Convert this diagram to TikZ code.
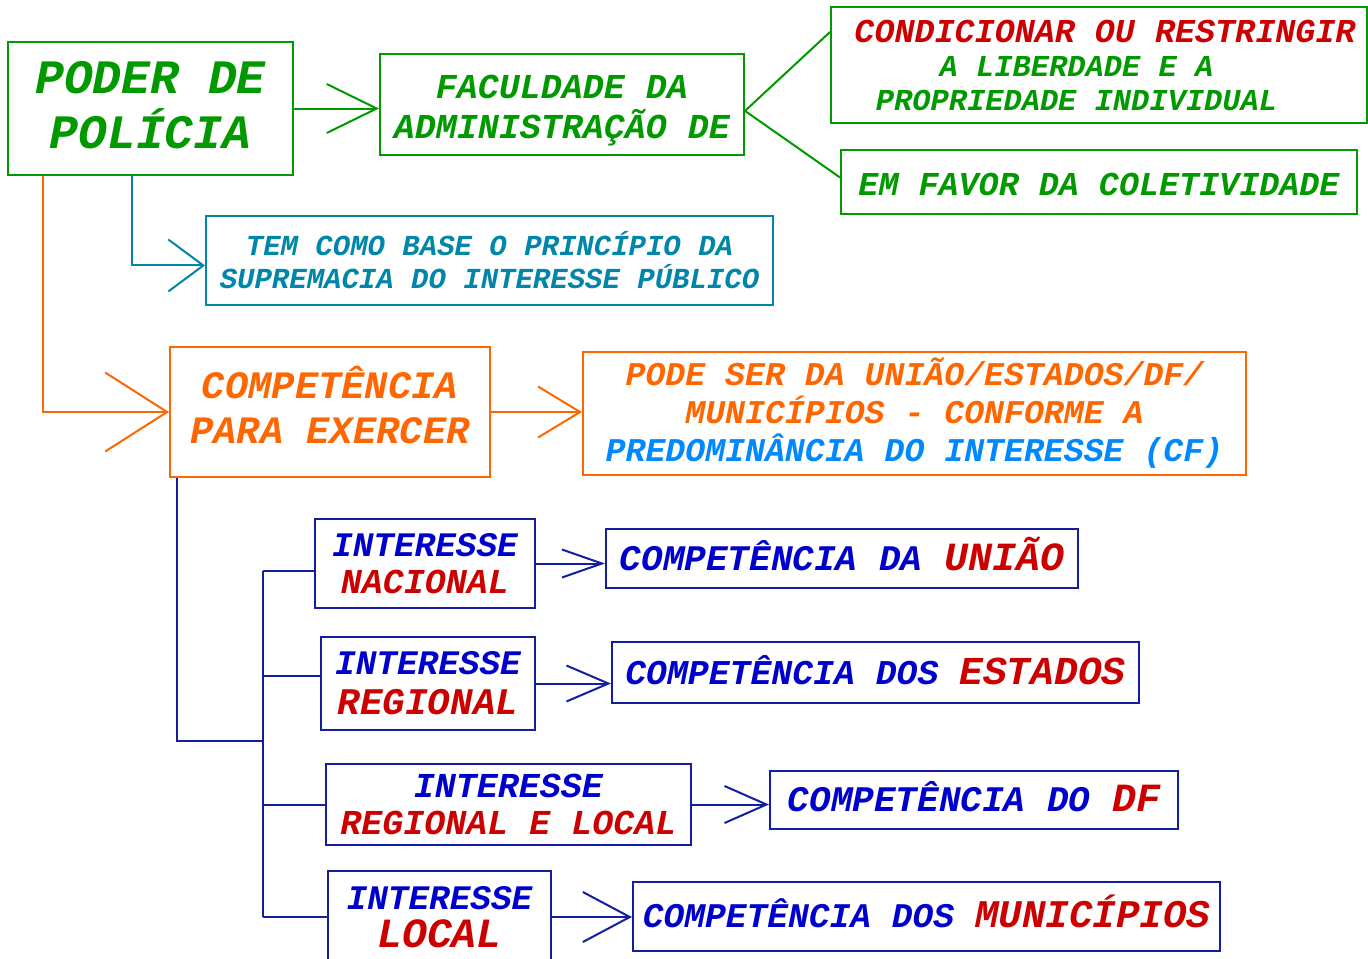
\documentclass[tikz,border=0pt]{standalone}
\usepackage{fontspec}
\setmainfont{Liberation Mono}
\usetikzlibrary{arrows.meta}
\definecolor{polgreen}{RGB}{0,153,0}
\definecolor{polred}{RGB}{204,0,0}
\definecolor{polorange}{RGB}{255,102,0}
\definecolor{polteal}{RGB}{0,134,168}
\definecolor{polblue}{RGB}{0,0,204}
\definecolor{polnavy}{RGB}{20,30,160}
\definecolor{polsky}{RGB}{0,136,255}
\begin{document}
\begin{tikzpicture}[x=0.5pt,y=-0.5pt,
  box/.style={draw,line width=1pt,inner sep=0pt,align=center},
  fs/.style 2 args={font=\bfseries\itshape\fontsize{#1}{#2}\selectfont},
  oneline/.style={text height=14pt,text depth=2.5pt},
  greenbox/.style={box,draw=polgreen,text=polgreen},
  tealbox/.style={box,draw=polteal,text=polteal},
  orangebox/.style={box,draw=polorange,text=polorange},
  navybox/.style={box,draw=polnavy,text=polblue},
  link/.style={line width=1pt},
  barb/.style 2 args={-{Straight Barb[length=#1,width=#2]}}]
\clip (0,0) rectangle (1368,958);
\fill[white] (0,0) rectangle (1368,958);
% top row
\node[greenbox,fs={24}{27.5},minimum width=142.5pt,minimum height=66.5pt] (poder) at (150.5,108.5) {PODER DE\\POL\'ICIA\rule[-4pt]{0pt}{0pt}};
\node[greenbox,fs={17.5}{20},minimum width=182pt,minimum height=50.5pt] (faculdade) at (562,104.5) {\rule{0pt}{18pt}FACULDADE DA\\ADMINISTRAÇÃO DE};
\node[greenbox,fs={16.7}{17},minimum width=268pt,minimum height=58pt] (condicionar) at (1099,65) {\hspace*{6pt}\textcolor{polred}{CONDICIONAR OU RESTRINGIR}\\\fontsize{15.2}{17}\selectfont A LIBERDADE E A\rule{22.5pt}{0pt}\\\fontsize{15.2}{17}\selectfont PROPRIEDADE INDIVIDUAL\rule{22.5pt}{0pt}};
\node[greenbox,fs={16.7}{20},text height=15pt,text depth=2pt,minimum width=258pt,minimum height=32pt] (favor) at (1099,182) {EM FAVOR DA COLETIVIDADE};
\node[tealbox,fs={14.5}{16.5},minimum width=283.5pt,minimum height=44.5pt] (base) at (489.5,260.5) {TEM COMO BASE O PRINCÍPIO DA\\SUPREMACIA DO INTERESSE PÚBLICO};
% competencia
\node[orangebox,fs={19.4}{22.5},minimum width=160pt,minimum height=65pt] (competencia) at (330,412) {COMPETÊNCIA\\PARA EXERCER\rule[-7pt]{0pt}{0pt}};
\node[orangebox,fs={16.6}{19},minimum width=331.5pt,minimum height=61.5pt] (pode) at (914.5,413.5) {PODE SER DA UNIÃO/ESTADOS/DF/\\MUNICÍPIOS - CONFORME A\\\textcolor{polsky}{PREDOMINÂNCIA DO INTERESSE (CF)}\rule[-3pt]{0pt}{0pt}};
% interesses
\node[navybox,fs={17.2}{18.5},minimum width=110pt,minimum height=44.5pt] (nacional) at (425,563.5) {INTERESSE\\\textcolor{polred}{\fontsize{17.5}{18.5}\selectfont NACIONAL}};
\node[navybox,fs={17.2}{20},minimum width=107pt,minimum height=46.5pt] (regional) at (428,683.5) {INTERESSE\\\textcolor{polred}{\fontsize{18.8}{20}\selectfont REGIONAL}};
\node[navybox,fs={17.5}{18.5},minimum width=182.5pt,minimum height=40.5pt] (regloc) at (508.5,804.5) {INTERESSE\\\textcolor{polred}{REGIONAL E LOCAL}};
\node[navybox,fs={17.2}{19},minimum width=111.5pt,minimum height=46pt] (local) at (439.5,917) {INTERESSE\\\textcolor{polred}{\fontsize{20.8}{19}\selectfont LOCAL}};
% competencias
\node[navybox,oneline,fs={18}{20},minimum width=236pt,minimum height=29.5pt] (cuniao) at (842,558.5) {COMPETÊNCIA DA \textcolor{polred}{\fontsize{20}{20}\selectfont UNIÃO}};
\node[navybox,oneline,fs={17.4}{20},minimum width=263.5pt,minimum height=30.5pt] (cestados) at (875.5,672.5) {COMPETÊNCIA DOS \textcolor{polred}{\fontsize{19.8}{20}\selectfont ESTADOS}};
\node[navybox,oneline,fs={18}{20},minimum width=204pt,minimum height=29pt] (cdf) at (974,800) {COMPETÊNCIA DO \textcolor{polred}{\fontsize{20}{20}\selectfont DF}};
\node[navybox,oneline,fs={17.3}{20},text height=13pt,minimum width=293.5pt,minimum height=34.5pt] (cmunicipios) at (926.5,916.5) {COMPETÊNCIA DOS \textcolor{polred}{\fontsize{19.6}{20}\selectfont MUNICÍPIOS}};
\coordinate (trunk) at (263,741);
% connectors
\draw[link,polgreen,barb={25pt}{24.5pt}] (poder.east) -- (poder.east -| faculdade.west);
\draw[link,polgreen] (condicionar.173) -- (faculdade.-2) -- (favor.179);
\draw[link,polteal,barb={17.5pt}{26pt}] ([xshift=-9.25pt]poder.south) |- (base.181);
\draw[link,polorange,barb={31pt}{39.5pt}] ([xshift=-53.75pt]poder.south) |- (competencia.west);
\draw[link,polorange,barb={21pt}{25.5pt}] (competencia.east) -- (competencia.east -| pode.west);
\draw[link,polnavy] ([xshift=4pt]competencia.south west) |- (trunk);
\draw[link,polnavy] (trunk |- nacional.184) -- (trunk |- local.west);
\draw[link,polnavy] (trunk |- nacional.184) -- (nacional.184);
\draw[link,polnavy] (trunk |- regional.176) -- (regional.176);
\draw[link,polnavy] (trunk |- regloc.west) -- (regloc.west);
\draw[link,polnavy] (trunk |- local.west) -- (local.west);
\draw[link,polnavy,barb={20pt}{14pt}] (nacional.east) -- (nacional.east -| cuniao.west);
\draw[link,polnavy,barb={21pt}{18pt}] (regional.east) -- (regional.east -| cestados.west);
\draw[link,polnavy,barb={21pt}{18.5pt}] (regloc.east) -- (regloc.east -| cdf.west);
\draw[link,polnavy,barb={23.5pt}{25pt}] (local.east) -- (local.east -| cmunicipios.west);
\end{tikzpicture}
\end{document}
